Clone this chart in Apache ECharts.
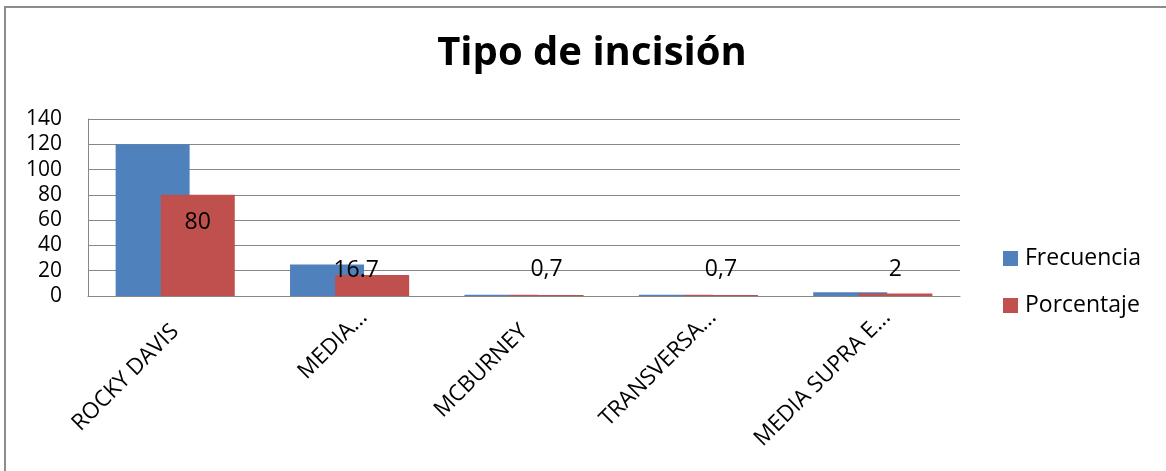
<!DOCTYPE html>
<html>
<head>
<meta charset="utf-8">
<script src="https://cdn.jsdelivr.net/npm/echarts@6/dist/echarts.min.js"></script>
<style>
html,body{margin:0;padding:0;background:#fff;}
#chart{width:1166px;height:471px;}
</style>
</head>
<body>
<div id="chart"></div>
<script>
const categories = ['ROCKY DAVIS', 'MEDIA...', 'MCBURNEY', 'TRANSVERSA...', 'MEDIA SUPRA E...'];
const frecuencia = [120, 25, 1, 1, 3];
const porcentaje = [80, 16.7, 0.7, 0.7, 2];
const porcentajeLabels = ['80', '16.7', '0,7', '0,7', '2'];
const yTicks = [0, 20, 40, 60, 80, 100, 120, 140];

const FONT = '"Open Sans"';
const labelOffsets = [[0, -23], [-16, -15], [0, -26], [0, -26], [0, -25]];

const chart = echarts.init(document.getElementById('chart'));
chart.setOption({
  animation: false,
  backgroundColor: '#fff',
  title: {
    text: 'Tipo de incisión',
    left: 587, top: 29, textAlign: 'center',
    textStyle: { fontFamily: FONT, fontWeight: 'bold', fontSize: 40, color: '#000' }
  },
  graphic: [{
    type: 'rect', silent: true,
    shape: { x: 5, y: 7, width: 1300, height: 600 },
    style: { fill: 'none', stroke: '#8c8c8c', lineWidth: 2 }
  }],
  legend: {
    orient: 'vertical', left: 1003, top: 247, padding: 0,
    itemWidth: 15, itemHeight: 15, itemGap: 24,
    icon: 'rect',
    textStyle: { fontFamily: FONT, fontSize: 23, color: '#000', padding: [0, 0, 0, 2] },
    data: ['Frecuencia', 'Porcentaje']
  },
  grid: { left: 88, right: 206, top: 119, bottom: 175, containLabel: false },
  xAxis: {
    type: 'category',
    data: categories.map(c => ({
      value: c,
      textStyle: { padding: c.endsWith('...') ? [0, -20, 0, 0] : [0, 0, 0, 0] }
    })),
    axisLine: { lineStyle: { color: '#878787', width: 1 } },
    axisTick: { show: false },
    axisLabel: { rotate: 45, interval: 0, margin: 32, fontFamily: FONT, fontSize: 22.5, color: '#000' }
  },
  yAxis: {
    type: 'value', min: yTicks[0], max: yTicks[yTicks.length - 1], interval: 20,
    axisLine: { show: true, lineStyle: { color: '#878787', width: 1 } },
    axisTick: { show: false },
    splitLine: { lineStyle: { color: '#878787', width: 1 } },
    axisLabel: { margin: 26, fontFamily: FONT, fontSize: 21, color: '#000' }
  },
  series: [
    {
      name: 'Frecuencia', type: 'bar', data: frecuencia,
      barWidth: 74, barGap: '-39%',
      itemStyle: { color: '#4F81BD' }
    },
    {
      name: 'Porcentaje', type: 'bar',
      data: porcentaje.map((v, i) => ({
        value: v,
        label: { show: true, position: 'inside', offset: labelOffsets[i], formatter: porcentajeLabels[i] }
      })),
      barWidth: 74,
      itemStyle: { color: '#C0504D' },
      label: { fontFamily: FONT, fontSize: 23, color: '#000' }
    }
  ]
});
</script>
</body>
</html>
